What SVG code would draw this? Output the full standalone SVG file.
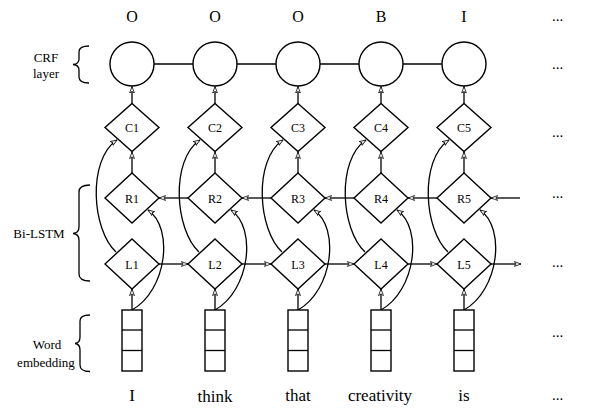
<svg xmlns="http://www.w3.org/2000/svg" width="605" height="413" viewBox="0 0 605 413">
<defs>
<marker id="ah" viewBox="0 0 10 8" refX="9.5" refY="4" markerWidth="7" markerHeight="6" orient="auto" markerUnits="userSpaceOnUse">
<path d="M0,0.5 L9.5,4 L0,7.5 L2.5,4 Z" fill="#fff" stroke="#000" stroke-width="1.1"/>
</marker>
</defs>
<style>
.s{fill:#fff;stroke:#000;stroke-width:1.4}
.c{fill:none;stroke:#000;stroke-width:1.3}
.a{fill:none;stroke:#000;stroke-width:1.3;marker-end:url(#ah)}
text{font-family:"Liberation Serif","Times New Roman","DejaVu Serif",serif;fill:#000}
.t{text-anchor:middle}
.d{font-size:12px}
.big{font-size:16px}
.w{font-size:17px}
.side{font-size:13px}
.dots{font-size:15px}
</style>
<rect width="605" height="413" fill="#fff"/>

<g id="connectors">
<line class="c" x1="154" y1="64" x2="193" y2="64"/>
<line class="c" x1="237" y1="64" x2="276" y2="64"/>
<line class="c" x1="320" y1="64" x2="359" y2="64"/>
<line class="c" x1="403" y1="64" x2="442" y2="64"/>
<line class="a" x1="132" y1="103.5" x2="132" y2="86.5"/>
<line class="a" x1="215" y1="103.5" x2="215" y2="86.5"/>
<line class="a" x1="298" y1="103.5" x2="298" y2="86.5"/>
<line class="a" x1="381" y1="103.5" x2="381" y2="86.5"/>
<line class="a" x1="464" y1="103.5" x2="464" y2="86.5"/>
<line class="a" x1="132" y1="173" x2="132" y2="152"/>
<line class="a" x1="215" y1="173" x2="215" y2="152"/>
<line class="a" x1="298" y1="173" x2="298" y2="152"/>
<line class="a" x1="381" y1="173" x2="381" y2="152"/>
<line class="a" x1="464" y1="173" x2="464" y2="152"/>
<line class="a" x1="132" y1="310" x2="132" y2="289"/>
<line class="a" x1="215" y1="310" x2="215" y2="289"/>
<line class="a" x1="298" y1="310" x2="298" y2="289"/>
<line class="a" x1="381" y1="310" x2="381" y2="289"/>
<line class="a" x1="464" y1="310" x2="464" y2="289"/>
<line class="a" x1="159" y1="264" x2="188" y2="264"/>
<line class="a" x1="242" y1="264" x2="271" y2="264"/>
<line class="a" x1="325" y1="264" x2="354" y2="264"/>
<line class="a" x1="408" y1="264" x2="437" y2="264"/>
<line class="a" x1="491" y1="264" x2="521" y2="264"/>
<line class="a" x1="188" y1="198" x2="159" y2="198"/>
<line class="a" x1="271" y1="198" x2="242" y2="198"/>
<line class="a" x1="354" y1="198" x2="325" y2="198"/>
<line class="a" x1="437" y1="198" x2="408" y2="198"/>
<line class="a" x1="520" y1="198" x2="491" y2="198"/>
<path class="a" d="M116,252 C92,230 87,160 117,140"/>
<path class="a" d="M199,252 C175,230 170,160 200,140"/>
<path class="a" d="M282,252 C258,230 253,160 283,140"/>
<path class="a" d="M365,252 C341,230 336,160 366,140"/>
<path class="a" d="M448,252 C424,230 419,160 449,140"/>
<path class="a" d="M132,310 C167,290 174,228 148,210"/>
<path class="a" d="M215,310 C250,290 257,228 231,210"/>
<path class="a" d="M298,310 C333,290 340,228 314,210"/>
<path class="a" d="M381,310 C416,290 423,228 397,210"/>
<path class="a" d="M464,310 C499,290 506,228 480,210"/>
</g>

<g id="crf-nodes">
<g id="crf1"><circle class="s" cx="132" cy="64" r="22"/></g>
<g id="crf2"><circle class="s" cx="215" cy="64" r="22"/></g>
<g id="crf3"><circle class="s" cx="298" cy="64" r="22"/></g>
<g id="crf4"><circle class="s" cx="381" cy="64" r="22"/></g>
<g id="crf5"><circle class="s" cx="464" cy="64" r="22"/></g>
</g>

<g id="c-nodes">
<g id="C1"><path class="s" d="M132,103.5 L159,127.5 L132,151.5 L105,127.5 Z"/><text class="t d" x="132" y="132">C1</text></g>
<g id="C2"><path class="s" d="M215,103.5 L242,127.5 L215,151.5 L188,127.5 Z"/><text class="t d" x="215" y="132">C2</text></g>
<g id="C3"><path class="s" d="M298,103.5 L325,127.5 L298,151.5 L271,127.5 Z"/><text class="t d" x="298" y="132">C3</text></g>
<g id="C4"><path class="s" d="M381,103.5 L408,127.5 L381,151.5 L354,127.5 Z"/><text class="t d" x="381" y="132">C4</text></g>
<g id="C5"><path class="s" d="M464,103.5 L491,127.5 L464,151.5 L437,127.5 Z"/><text class="t d" x="464" y="132">C5</text></g>
</g>

<g id="r-nodes">
<g id="R1"><path class="s" d="M132,173 L159,198 L132,223 L105,198 Z"/><text class="t d" x="132" y="202.5">R1</text></g>
<g id="R2"><path class="s" d="M215,173 L242,198 L215,223 L188,198 Z"/><text class="t d" x="215" y="202.5">R2</text></g>
<g id="R3"><path class="s" d="M298,173 L325,198 L298,223 L271,198 Z"/><text class="t d" x="298" y="202.5">R3</text></g>
<g id="R4"><path class="s" d="M381,173 L408,198 L381,223 L354,198 Z"/><text class="t d" x="381" y="202.5">R4</text></g>
<g id="R5"><path class="s" d="M464,173 L491,198 L464,223 L437,198 Z"/><text class="t d" x="464" y="202.5">R5</text></g>
</g>

<g id="l-nodes">
<g id="L1"><path class="s" d="M132,239 L159,264 L132,289 L105,264 Z"/><text class="t d" x="132" y="268.5">L1</text></g>
<g id="L2"><path class="s" d="M215,239 L242,264 L215,289 L188,264 Z"/><text class="t d" x="215" y="268.5">L2</text></g>
<g id="L3"><path class="s" d="M298,239 L325,264 L298,289 L271,264 Z"/><text class="t d" x="298" y="268.5">L3</text></g>
<g id="L4"><path class="s" d="M381,239 L408,264 L381,289 L354,264 Z"/><text class="t d" x="381" y="268.5">L4</text></g>
<g id="L5"><path class="s" d="M464,239 L491,264 L464,289 L437,264 Z"/><text class="t d" x="464" y="268.5">L5</text></g>
</g>

<g id="embeddings">
<g id="E1"><rect class="s" x="122" y="310" width="20" height="61"/><line class="c" x1="122" y1="330" x2="142" y2="330"/><line class="c" x1="122" y1="350.5" x2="142" y2="350.5"/></g>
<g id="E2"><rect class="s" x="205" y="310" width="20" height="61"/><line class="c" x1="205" y1="330" x2="225" y2="330"/><line class="c" x1="205" y1="350.5" x2="225" y2="350.5"/></g>
<g id="E3"><rect class="s" x="288" y="310" width="20" height="61"/><line class="c" x1="288" y1="330" x2="308" y2="330"/><line class="c" x1="288" y1="350.5" x2="308" y2="350.5"/></g>
<g id="E4"><rect class="s" x="371" y="310" width="20" height="61"/><line class="c" x1="371" y1="330" x2="391" y2="330"/><line class="c" x1="371" y1="350.5" x2="391" y2="350.5"/></g>
<g id="E5"><rect class="s" x="454" y="310" width="20" height="61"/><line class="c" x1="454" y1="330" x2="474" y2="330"/><line class="c" x1="454" y1="350.5" x2="474" y2="350.5"/></g>
</g>

<g id="tags">
<text class="t big" x="132" y="22">O</text>
<text class="t big" x="215" y="22">O</text>
<text class="t big" x="298" y="22">O</text>
<text class="t big" x="381" y="22">B</text>
<text class="t big" x="464" y="22">I</text>
</g>

<g id="words">
<text class="t w" x="132" y="401">I</text>
<text class="t w" x="215" y="402">think</text>
<text class="t w" x="298" y="401">that</text>
<text class="t w" x="380" y="401">creativity</text>
<text class="t w" x="464" y="401">is</text>
</g>

<g id="ellipses">
<text class="dots" x="552" y="21">...</text>
<text class="dots" x="552" y="69">...</text>
<text class="dots" x="552" y="137">...</text>
<text class="dots" x="552" y="198">...</text>
<text class="dots" x="552" y="267">...</text>
<text class="dots" x="552" y="337">...</text>
<text class="dots" x="552" y="400">...</text>
</g>

<g id="layer-labels">
<text class="t side" x="46" y="62">CRF</text>
<text class="t side" x="46" y="78">layer</text>
<path class="c" d="M89,46 Q79,46 79,52 L79,59 Q79,64 73,64.5 Q79,65 79,70 L79,77 Q79,83 89,83"/>
<text class="t side" x="39" y="238">Bi-LSTM</text>
<path class="c" d="M90,185 Q79,185 79,192 L79,227 Q79,233 73,233.5 Q79,234 79,240 L79,274 Q79,281 90,281"/>
<text class="t side" x="47" y="349">Word</text>
<text class="t side" x="46" y="367">embedding</text>
<path class="c" d="M90,315 Q80,315 80,321 L80,337 Q80,343 75,343.5 Q80,344 80,350 L80,365 Q80,371.5 90,371.5"/>
</g>
</svg>
